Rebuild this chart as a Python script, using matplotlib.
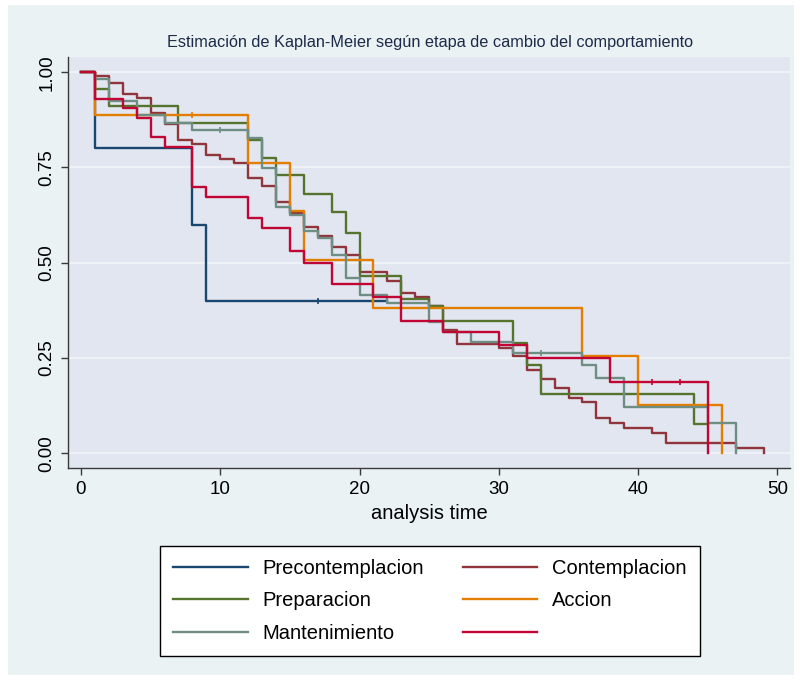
import matplotlib
matplotlib.use("Agg")
import matplotlib.pyplot as plt
from matplotlib.patches import Rectangle

plt.rcParams['font.family'] = ['Liberation Sans', 'DejaVu Sans']

# Kaplan-Meier step curves (time, survival)
pre_t = [0, 1, 8, 9, 22]
pre_s = [1.0, 0.80, 0.60, 0.40, 0.40]
pre_ct = [17]
pre_cs = [0.40]

cont_t = [0, 1, 2, 3, 4, 5, 6, 7, 8, 9, 10, 11, 12, 13, 14, 15, 16, 17, 18, 19,
          20, 22, 23, 24, 25, 26, 27, 30, 31, 32, 33, 34, 35, 36, 37, 38, 39, 41, 42, 47, 49]
cont_s = [1.0, 0.990, 0.971, 0.942, 0.932, 0.892, 0.864, 0.823, 0.812, 0.784,
          0.773, 0.763, 0.722, 0.702, 0.659, 0.630, 0.594, 0.571, 0.541, 0.519,
          0.475, 0.453, 0.420, 0.411, 0.387, 0.322, 0.287, 0.276, 0.254, 0.219,
          0.195, 0.171, 0.144, 0.133, 0.092, 0.079, 0.066, 0.052, 0.026, 0.013, 0.0]

prep_t = [0, 1, 2, 7, 12, 13, 14, 16, 18, 19, 20, 23, 25, 26, 31, 32, 33, 44, 45]
prep_s = [1.0, 0.956, 0.912, 0.866, 0.821, 0.776, 0.729, 0.681, 0.632, 0.579,
          0.464, 0.405, 0.387, 0.348, 0.290, 0.232, 0.156, 0.077, 0.077]

acc_t = [0, 1, 12, 15, 16, 21, 36, 40, 46]
acc_s = [1.0, 0.889, 0.762, 0.635, 0.508, 0.381, 0.254, 0.127, 0.0]
acc_ct = [8]
acc_cs = [0.889]

mant_t = [0, 1, 2, 4, 6, 8, 12, 13, 14, 15, 16, 17, 18, 19, 20, 22, 25, 26, 28, 31,
          36, 37, 39, 45, 47]
mant_s = [1.0, 0.982, 0.925, 0.888, 0.866, 0.849, 0.828, 0.748, 0.647, 0.626,
          0.584, 0.564, 0.521, 0.459, 0.416, 0.394, 0.345, 0.319, 0.291, 0.264,
          0.232, 0.197, 0.120, 0.080, 0.0]
mant_ct = [10, 33]
mant_cs = [0.849, 0.264]

otro_t = [0, 1, 3, 4, 5, 6, 8, 9, 12, 13, 15, 16, 18, 21, 23, 26, 30, 32, 38, 45]
otro_s = [1.0, 0.930, 0.905, 0.879, 0.829, 0.803, 0.698, 0.673, 0.618, 0.590,
          0.531, 0.500, 0.444, 0.411, 0.348, 0.317, 0.284, 0.249, 0.186, 0.0]
otro_ct = [41, 43]
otro_cs = [0.186, 0.186]

etiquetas = ["Precontemplacion", "Contemplacion", "Preparacion", "Accion",
             "Mantenimiento", ""]
colores = ["#1a476f", "#90353b", "#55752f", "#e37e00", "#6e8e84", "#c10534"]

xticks = [0, 10, 20, 30, 40, 50]
yticks = [0.0, 0.25, 0.50, 0.75, 1.00]
ytick_labels = ["0.00", "0.25", "0.50", "0.75", "1.00"]

W, H = 801, 681
fig = plt.figure(figsize=(W / 100, H / 100), dpi=100, facecolor="white")
fig.patches.append(Rectangle((8 / W, 6 / H), 786 / W, 670 / H, transform=fig.transFigure,
                             facecolor="#eaf2f3", edgecolor="none", zorder=-5))

ax = fig.add_axes([68 / W, 1 - 468 / H, 722 / W, 411 / H])
ax.set_facecolor("#e2e6f0")

curvas = [(pre_t, pre_s), (cont_t, cont_s), (prep_t, prep_s),
          (acc_t, acc_s), (mant_t, mant_s), (otro_t, otro_s)]
censuras = [(pre_ct, pre_cs), None, None, (acc_ct, acc_cs), (mant_ct, mant_cs),
            (otro_ct, otro_cs)]
handles = []
for i, (t, s) in enumerate(curvas):
    h, = ax.step(t, s, where="post", color=colores[i], lw=1.7, label=etiquetas[i], zorder=3)
    handles.append(h)
    if censuras[i] is not None:
        ax.plot(censuras[i][0], censuras[i][1], ls="none", marker="|", ms=5,
                mew=1.2, color=colores[i], zorder=3)

ax.set_xlim(-0.93, 50.9)
ax.set_ylim(-0.039, 1.040)
ax.set_xticks(xticks)
ax.set_yticks(yticks)
ax.set_yticklabels(ytick_labels, rotation=90, va="center")
ax.grid(axis="y", color="#eef1f5", lw=1.5, zorder=1)
ax.set_axisbelow(True)
for side in ["top", "right"]:
    ax.spines[side].set_visible(False)
for side in ["left", "bottom"]:
    ax.spines[side].set_color("#3a3a3a")
    ax.spines[side].set_linewidth(1.0)
ax.tick_params(colors="#3a3a3a", labelcolor="black", length=5, width=1.0,
               labelsize=13.5, pad=4)
ax.set_xlabel("analysis time", fontsize=14.5, labelpad=5)

fig.text(430 / W, 1 - 43 / H, "Estimación de Kaplan-Meier según etapa de cambio del comportamiento",
         ha="center", va="center", fontsize=11.7, color="#1c2a48")

orden = [0, 2, 4, 1, 3, 5]
leg = fig.legend([handles[k] for k in orden], [etiquetas[k] for k in orden],
                 ncol=2, loc="center", bbox_to_anchor=(430 / W, 1 - 601 / H),
                 fontsize=14.5, frameon=True, fancybox=False, edgecolor="black",
                 facecolor="white", framealpha=1, handlelength=3.7,
                 handletextpad=0.75, columnspacing=1.9, labelspacing=0.67,
                 borderpad=0.65)
leg.get_frame().set_linewidth(1.0)

fig.savefig("out.png", dpi=100, facecolor="white")
